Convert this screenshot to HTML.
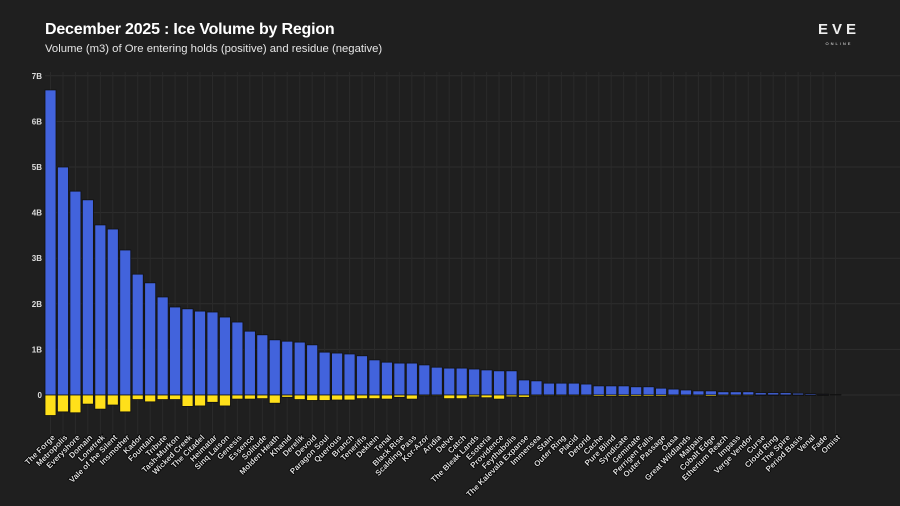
<!DOCTYPE html>
<html><head><meta charset="utf-8">
<style>
html,body{margin:0;padding:0;background:#1f1f1f;}
#wrap{position:relative;width:900px;height:506px;background:#1f1f1f;overflow:hidden;font-family:"Liberation Sans",sans-serif;}
#title{position:absolute;left:45px;top:21px;color:#fff;font-size:16px;font-weight:bold;letter-spacing:-0.2px;}
#subtitle{position:absolute;left:45px;top:43px;color:#e6e6e6;font-size:11.3px;}
#logo{position:absolute;left:810px;top:23px;color:#eee;text-align:center;width:58px;}
</style></head><body>
<div id="wrap">
<div id="title">December 2025 : Ice Volume by Region</div>
<div id="subtitle">Volume (m3) of Ore entering holds (positive) and residue (negative)</div>
<div id="logo"><div style="font-size:15px;font-weight:bold;letter-spacing:4px;line-height:14px;">EVE</div><div style="font-size:4px;letter-spacing:2px;margin-top:4px;">ONLINE</div></div>
<svg id="chart" width="900" height="506" style="position:absolute;left:0;top:0"></svg>
</div>
<script>
const categories=["The Forge","Metropolis","Everyshore","Domain","Lonetrek","Vale of the Silent","Insmother","Kador","Fountain","Tribute","Tash-Murkon","Wicked Creek","The Citadel","Heimatar","Sinq Laison","Genesis","Essence","Solitude","Molden Heath","Khanid","Derelik","Devoid","Paragon Soul","Querious","Branch","Tenerifis","Deklein","Tenal","Black Rise","Scalding Pass","Kor-Azor","Aridia","Delve","Catch","The Bleak Lands","Esoteria","Providence","Feythabolis","The Kalevala Expanse","Immensea","Stain","Outer Ring","Placid","Detorid","Cache","Pure Blind","Syndicate","Geminate","Perrigen Falls","Outer Passage","Oasa","Great Wildlands","Malpais","Cobalt Edge","Etherium Reach","Impass","Verge Vendor","Curse","Cloud Ring","The Spire","Period Basis","Venal","Fade","Omist"];
const positiveValues=[6.69,5.0,4.47,4.28,3.73,3.64,3.18,2.65,2.46,2.15,1.93,1.89,1.84,1.82,1.71,1.60,1.40,1.32,1.21,1.18,1.16,1.10,0.94,0.92,0.90,0.86,0.77,0.72,0.70,0.70,0.66,0.61,0.59,0.59,0.57,0.55,0.53,0.53,0.33,0.31,0.26,0.26,0.26,0.24,0.20,0.20,0.20,0.18,0.18,0.15,0.13,0.11,0.09,0.09,0.07,0.07,0.07,0.05,0.05,0.05,0.04,0.03,0.02,0.01];
const negativeValues=[-0.45,-0.37,-0.39,-0.20,-0.31,-0.22,-0.37,-0.10,-0.15,-0.10,-0.10,-0.25,-0.24,-0.16,-0.24,-0.09,-0.09,-0.08,-0.18,-0.05,-0.10,-0.12,-0.12,-0.11,-0.11,-0.08,-0.08,-0.09,-0.05,-0.09,-0.02,-0.02,-0.08,-0.08,-0.04,-0.06,-0.09,-0.04,-0.05,-0.02,-0.02,-0.02,-0.02,-0.02,-0.03,-0.03,-0.03,-0.03,-0.03,-0.03,-0.02,-0.02,-0.02,-0.03,-0.02,-0.02,-0.02,-0.01,-0.01,-0.01,-0.01,-0.01,-0.01,0];
const tickValues=[0,1,2,3,4,5,6,7];
const tickLabels=["0","1B","2B","3B","4B","5B","6B","7B"];

const svg=document.getElementById('chart');
const NS='http://www.w3.org/2000/svg';
const x0=50.5, step=(835.5-50.5)/63, barW=11;
const yZero=395, perB=45.6;
function xScale(i){return x0+i*step;}
function yScale(v){return yZero-v*perB;}
function mk(tag,attrs){const e=document.createElementNS(NS,tag);for(const k in attrs)e.setAttribute(k,attrs[k]);svg.appendChild(e);return e;}

tickValues.forEach((t,i)=>{
  const g=mk('line',{x1:45,x2:900,y1:yScale(t),y2:yScale(t),stroke:'#2e2e2e',"stroke-width":1});
  
  
  const tx=mk('text',{x:42,y:yScale(t)+3,"text-anchor":"end",fill:'#ddd',"font-size":8,"font-weight":"bold","font-family":"Liberation Sans, sans-serif"});
  tx.textContent=tickLabels[i];
  
  
});
categories.forEach((c,i)=>{
  const g=mk('line',{x1:xScale(i),x2:xScale(i),y1:72,y2:434,stroke:'#2a2a2a',"stroke-width":1});
  
  
});
categories.forEach((c,i)=>{
  const cx=xScale(i);
  const yp=yScale(positiveValues[i]);
  const b=mk('rect',{x:cx-barW/2,y:yp,width:barW,height:Math.max(0,yZero-yp),fill:'#4263dc',stroke:'#111',"stroke-width":0.8});
  
  
  const yn=yScale(negativeValues[i]);
  const n=mk('rect',{x:cx-barW/2,y:yZero,width:barW,height:Math.max(0,yn-yZero),fill:'#ffe01a',stroke:'#111',"stroke-width":0.8});
  
  
  const t=mk('text',{x:cx+5,y:438,"text-anchor":"end",fill:'#ddd',"font-size":8,"font-weight":"bold","font-family":"Liberation Sans, sans-serif",transform:`rotate(-45 ${cx+5} 438)`,style:"paint-order:stroke;stroke:#000;stroke-width:1.5px"});
  t.textContent=c;
  
  
});
</script>
</body></html>
